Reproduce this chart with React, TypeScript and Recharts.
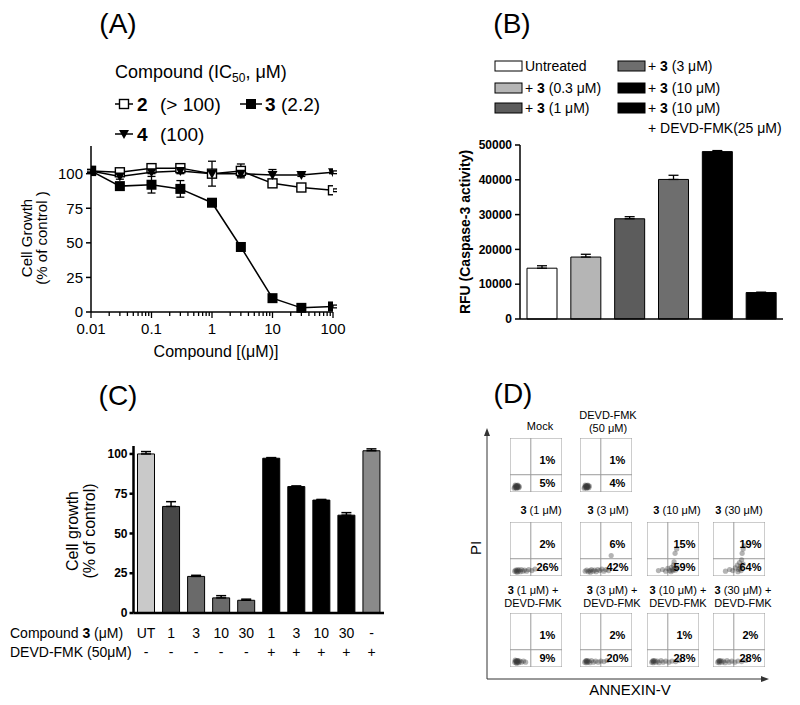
import React from 'react';
import {
  LineChart, Line, XAxis, YAxis, ErrorBar, BarChart, Bar, Cell,
  ScatterChart, Scatter, ReferenceLine, ReferenceArea,
} from 'recharts';

const FONT = "'Liberation Sans', Arial, Helvetica, sans-serif";

// ---------- Panel A data ----------
const concentrations = [0.01, 0.03, 0.1, 0.3, 1, 3, 10, 30, 100];
const growth2 = [102, 101, 104, 104, 100, 102, 93, 90, 88];
const growth3 = [102, 91, 92, 89, 79, 47, 10, 3, 4];
const growth4 = [102, 98, 101, 102, 100, 100, 99, 99, 101];
const err2 = [1, 1, 1, 1, 9, 5, 2, 1, 1];
const err3 = [1, 2, 6, 6, 2, 1, 1, 1, 1];
const err4 = [1, 2, 1, 2, 1, 2, 4, 1, 1];
const majorTicksA = [0.01, 0.1, 1, 10, 100];
const minorTicksA = [
  0.02, 0.03, 0.04, 0.05, 0.06, 0.07, 0.08, 0.09,
  0.2, 0.3, 0.4, 0.5, 0.6, 0.7, 0.8, 0.9,
  2, 3, 4, 5, 6, 7, 8, 9,
  20, 30, 40, 50, 60, 70, 80, 90,
];
const yTicksA = [0, 25, 50, 75, 100];

// ---------- Panel B data ----------
const caspaseGroups = ['Untreated', '3 0.3uM', '3 1uM', '3 3uM', '3 10uM', '3 10uM + DEVD'];
const caspaseRFU = [14600, 17800, 28800, 40100, 48100, 7600];
const caspaseErr = [700, 800, 600, 1200, 300, 100];
const yTicksB = [0, 10000, 20000, 30000, 40000, 50000];

// ---------- Panel C data ----------
const cDoses = ['UT', '1', '3', '10', '30', '1', '3', '10', '30', '-'];
const cDevd = ['-', '-', '-', '-', '-', '+', '+', '+', '+', '+'];
const cGrowth = [100, 67, 23, 9.5, 8, 97.3, 79.5, 71, 61.5, 102];
const cErr = [1.5, 3, 0.7, 1.4, 0.7, 0.4, 0.4, 0.4, 1.6, 1.2];
const yTicksC = [0, 25, 50, 75, 100];

// ---------- Panel D data ----------
const dTitles = [
  ['Mock'], ['DEVD-FMK', '(50 μM)'],
  ['3 (1 μM)'], ['3 (3 μM)'], ['3 (10 μM)'], ['3 (30 μM)'],
  ['3 (1 μM) +', 'DEVD-FMK'], ['3 (3 μM) +', 'DEVD-FMK'], ['3 (10 μM) +', 'DEVD-FMK'], ['3 (30 μM) +', 'DEVD-FMK'],
];
const dUpper = ['1%', '1%', '2%', '6%', '15%', '19%', '1%', '2%', '1%', '2%'];
const dLower = ['5%', '4%', '26%', '42%', '59%', '64%', '9%', '20%', '28%', '28%'];
const cloudMock = [[9, 9], [11, 11], [12, 8], [13, 10], [14, 12], [15, 9], [16, 11], [13, 7], [10, 13], [17, 8], [12, 12], [14, 9], [18, 10], [8, 7], [15, 13], [11, 9]];
const cloudDevd = [[9, 9], [11, 11], [12, 8], [13, 10], [14, 12], [15, 9], [16, 11], [13, 7], [10, 13], [17, 8], [12, 12], [14, 9], [18, 11], [8, 7], [15, 13], [11, 10]];
const cloud3a = [[9, 9], [11, 11], [12, 8], [13, 10], [15, 12], [16, 9], [18, 11], [20, 8], [22, 12], [25, 9], [28, 11], [32, 9], [36, 12], [42, 10], [48, 13], [14, 7]];
const cloud3b = [[10, 9], [13, 11], [16, 8], [19, 10], [22, 12], [25, 9], [28, 11], [31, 8], [34, 12], [38, 10], [42, 13], [46, 9], [50, 12], [55, 10], [60, 38], [20, 7]];
const cloud3c = [[22, 10], [30, 12], [36, 9], [40, 14], [44, 10], [47, 16], [49, 12], [51, 20], [53, 14], [55, 11], [52, 26], [54, 42], [57, 50], [58, 16], [46, 8], [50, 10]];
const cloud3d = [[24, 9], [32, 12], [38, 10], [43, 15], [47, 20], [49, 12], [51, 25], [53, 18], [55, 30], [56, 42], [58, 50], [60, 56], [52, 14], [58, 22], [48, 8], [54, 10]];
const cloud3aD = [[9, 9], [11, 11], [12, 8], [13, 10], [14, 12], [15, 9], [16, 11], [13, 7], [10, 13], [17, 8], [19, 11], [22, 9], [26, 11], [30, 9], [12, 11], [15, 12]];
const cloud3bD = [[9, 9], [11, 11], [12, 8], [13, 10], [14, 12], [15, 9], [17, 11], [19, 8], [22, 12], [26, 9], [30, 11], [35, 9], [40, 11], [46, 10], [52, 12], [12, 12]];
const cloud3cD = [[9, 9], [11, 11], [12, 8], [13, 10], [15, 12], [17, 9], [20, 11], [23, 8], [27, 12], [31, 9], [36, 11], [42, 9], [48, 11], [55, 10], [62, 12], [12, 12]];
const cloud3dD = [[9, 9], [11, 11], [12, 8], [13, 10], [15, 12], [17, 9], [20, 11], [23, 8], [27, 12], [31, 9], [36, 11], [42, 9], [48, 11], [55, 10], [63, 12], [12, 12]];
const dClouds = [cloudMock, cloudDevd, cloud3a, cloud3b, cloud3c, cloud3d, cloud3aD, cloud3bD, cloud3cD, cloud3dD];
const dGateX = 40;
const dGateY = 32;

// ---------- layout / styles ----------
const barColorsB = ['#ffffff', '#b5b5b5', '#5c5c5c', '#6e6e6e', '#000000', '#000000'];
const barColorsC = ['#c9c9c9', '#474747', '#6a6a6a', '#6a6a6a', '#6a6a6a', '#000000', '#000000', '#000000', '#000000', '#8a8a8a'];
const dColLeft = [510, 580, 647, 713];
const dRowTop = [438, 522, 613];
const dCells = [[0, 0], [0, 1], [1, 0], [1, 1], [1, 2], [1, 3], [2, 0], [2, 1], [2, 2], [2, 3]];
const dTitleCenters = [540, 608, 541, 608, 677, 739, 533, 612, 678, 743];
const D_W = 52;
const D_H = 54;

const dataA = concentrations.map((x, i) => ({
  x, s2: growth2[i], s3: growth3[i], s4: growth4[i], e2: err2[i], e3: err3[i], e4: err4[i],
}));
const dataB = caspaseGroups.map((g, i) => ({ g, v: caspaseRFU[i], err: [0, caspaseErr[i]] }));
const dataC = cGrowth.map((v, i) => ({ id: String(i), v, err: [0, cErr[i]] }));

const fmtTick = (v: number) => String(v);

const LogTick = (props: any) => {
  const { x, y, payload } = props;
  const isMajor = majorTicksA.includes(payload.value);
  return (
    <g>
      <line x1={x} x2={x} y1={y} y2={y + (isMajor ? 6 : 4)} stroke="#000" strokeWidth={1.3} />
      {isMajor && (
        <text x={x} y={y + 22} textAnchor="middle" fontSize={15} fontFamily={FONT} fill="#000">
          {fmtTick(payload.value)}
        </text>
      )}
    </g>
  );
};

const CTick = (props: any) => {
  const { x, y, payload } = props;
  const i = Number(payload.value);
  return (
    <g fontFamily={FONT} fontSize={14} fill="#000">
      <text x={x} y={y + 25} textAnchor="middle">{cDoses[i]}</text>
      <text x={x} y={y + 44} textAnchor="middle">{cDevd[i]}</text>
    </g>
  );
};

const openSquare = (p: any) => (
  <rect key={`o${p.index}`} x={p.cx - 4.5} y={p.cy - 4.5} width={9} height={9} fill="#fff" stroke="#000" strokeWidth={1.4} />
);
const filledSquare = (p: any) => (
  <rect key={`f${p.index}`} x={p.cx - 5} y={p.cy - 5} width={10} height={10} fill="#000" />
);
const downTriangle = (p: any) => (
  <path key={`t${p.index}`} d={`M${p.cx - 5},${p.cy - 4} L${p.cx + 5},${p.cy - 4} L${p.cx},${p.cy + 5} Z`} fill="#000" />
);

function PanelA() {
  return (
    <LineChart width={400} height={370} data={dataA} margin={{ top: 146, right: 67, bottom: 28, left: 51 }}>
      <XAxis
        dataKey="x" type="number" scale="log" domain={[0.01, 100]}
        ticks={[...majorTicksA, ...minorTicksA].sort((a, b) => a - b)}
        interval={0} tick={<LogTick />} tickLine={false} tickSize={0} tickMargin={0}
        height={30} stroke="#000" strokeWidth={1.5} allowDataOverflow
      />
      <YAxis
        type="number" domain={[0, 120]} ticks={yTicksA} interval={0} width={40}
        tickSize={5} tickMargin={3} stroke="#000" strokeWidth={1.5}
        tick={{ fontSize: 15, fill: '#000', fontFamily: FONT }}
      />
      <Line dataKey="s2" stroke="#000" strokeWidth={1.5} dot={openSquare} isAnimationActive={false}>
        <ErrorBar dataKey="e2" width={4} stroke="#000" strokeWidth={1.3} direction="y" />
      </Line>
      <Line dataKey="s4" stroke="#000" strokeWidth={1.5} dot={downTriangle} isAnimationActive={false}>
        <ErrorBar dataKey="e4" width={4} stroke="#000" strokeWidth={1.3} direction="y" />
      </Line>
      <Line dataKey="s3" stroke="#000" strokeWidth={1.5} dot={filledSquare} isAnimationActive={false}>
        <ErrorBar dataKey="e3" width={4} stroke="#000" strokeWidth={1.3} direction="y" />
      </Line>
    </LineChart>
  );
}

function PanelB() {
  return (
    <BarChart width={400} height={370} data={dataB} margin={{ top: 145, right: 17, bottom: 50, left: 70 }}>
      <XAxis dataKey="g" tick={false} tickLine={false} height={1} stroke="#000" strokeWidth={1.5} />
      <YAxis
        type="number" domain={[0, 50000]} ticks={yTicksB} interval={0} width={50}
        tickSize={5} tickMargin={3} stroke="#000" strokeWidth={1.5}
        tick={{ fontSize: 12, fill: '#000', fontFamily: FONT, fontWeight: 'bold' }}
      />
      <Bar dataKey="v" barSize={30} stroke="#000" strokeWidth={1} isAnimationActive={false}>
        {dataB.map((_, i) => <Cell key={i} fill={barColorsB[i]} />)}
        <ErrorBar dataKey="err" width={5} stroke="#000" strokeWidth={1.3} direction="y" />
      </Bar>
    </BarChart>
  );
}

function PanelC() {
  return (
    <BarChart width={400} height={330} data={dataC} margin={{ top: 106, right: 16, bottom: 7, left: 93.5 }}>
      <XAxis dataKey="id" tick={<CTick />} tickLine={false} tickSize={0} tickMargin={0} interval={0}
        height={50} stroke="#000" strokeWidth={2.5} />
      <YAxis
        type="number" domain={[0, 105]} ticks={yTicksC} interval={0} width={40}
        tickSize={4} tickMargin={2} stroke="#000" strokeWidth={2.5}
        tick={{ fontSize: 12, fill: '#000', fontFamily: FONT, fontWeight: 'bold' }}
      />
      <Bar dataKey="v" barSize={17} stroke="#000" strokeWidth={1} isAnimationActive={false}>
        {dataC.map((_, i) => <Cell key={i} fill={barColorsC[i]} />)}
        <ErrorBar dataKey="err" width={5} stroke="#000" strokeWidth={1.5} direction="y" />
      </Bar>
    </BarChart>
  );
}

const cloudDot = (p: any) => (
  <circle cx={p.cx} cy={p.cy} r={2.6} fill="#3a3a3a" fillOpacity={0.38} />
);

function FlowPlot({ idx }: { idx: number }) {
  const pts = dClouds[idx].map(([x, y]) => ({ x, y }));
  return (
    <ScatterChart width={D_W} height={D_H} margin={{ top: 0, right: 0, bottom: 0, left: 0 }}>
      <XAxis dataKey="x" type="number" domain={[0, 100]} hide />
      <YAxis dataKey="y" type="number" domain={[0, 100]} hide />
      <ReferenceArea x1={0} x2={100} y1={0} y2={100} fill="#fff" fillOpacity={0} stroke="#9a9a9a" strokeWidth={1} />
      <ReferenceLine x={dGateX} stroke="#9a9a9a" strokeWidth={1} />
      <ReferenceLine y={dGateY} stroke="#9a9a9a" strokeWidth={1} />
      <Scatter data={pts} shape={cloudDot} isAnimationActive={false} />
    </ScatterChart>
  );
}

function Overlay() {
  const t = { fontFamily: FONT, fill: '#000' } as any;
  return (
    <svg width={800} height={705} style={{ position: 'absolute', left: 0, top: 0, pointerEvents: 'none' }}>
      {/* panel letters */}
      <text x={118} y={33} textAnchor="middle" fontSize={28} {...t}>(A)</text>
      <text x={512} y={33} textAnchor="middle" fontSize={28} {...t}>(B)</text>
      <text x={118} y={405} textAnchor="middle" fontSize={28} {...t}>(C)</text>
      <text x={513} y={403} textAnchor="middle" fontSize={28} {...t}>(D)</text>

      {/* Panel A legend */}
      <text x={115} y={78} fontSize={18} {...t}>
        Compound (IC<tspan fontSize={12} dy={4}>50</tspan><tspan dy={-4}>, μM)</tspan>
      </text>
      <line x1={115} x2={133} y1={104} y2={104} stroke="#000" strokeWidth={1.5} />
      <rect x={119.5} y={99.5} width={9} height={9} fill="#fff" stroke="#000" strokeWidth={1.4} />
      <text x={137} y={111} fontSize={19} fontWeight="bold" {...t}>2</text>
      <text x={160} y={111} fontSize={19} {...t}>(&gt; 100)</text>
      <line x1={240} x2={262} y1={104} y2={104} stroke="#000" strokeWidth={1.5} />
      <rect x={246} y={99} width={10} height={10} fill="#000" />
      <text x={265} y={111} fontSize={19} fontWeight="bold" {...t}>3</text>
      <text x={281} y={111} fontSize={19} {...t}>(2.2)</text>
      <line x1={115} x2={133} y1={134} y2={134} stroke="#000" strokeWidth={1.5} />
      <path d="M119,130 L129,130 L124,139 Z" fill="#000" />
      <text x={137} y={141} fontSize={19} fontWeight="bold" {...t}>4</text>
      <text x={160} y={141} fontSize={19} {...t}>(100)</text>

      {/* Panel A axis labels */}
      <text x={216} y={357} textAnchor="middle" fontSize={16} {...t}>Compound [(μM)]</text>
      <text transform="translate(32,238) rotate(-90)" textAnchor="middle" fontSize={15} {...t}>Cell Growth</text>
      <text transform="translate(47,238) rotate(-90)" textAnchor="middle" fontSize={15} {...t}>(% of control )</text>

      {/* Panel B legend */}
      {[
        { x: 495, y: 66, c: 0, label: null },
        { x: 495, y: 88, c: 1, label: '(0.3 μM)' },
        { x: 495, y: 108, c: 2, label: '(1 μM)' },
        { x: 618, y: 66, c: 3, label: '(3 μM)' },
        { x: 618, y: 88, c: 4, label: '(10 μM)' },
        { x: 618, y: 108, c: 5, label: '(10 μM)' },
      ].map((r, i) => (
        <g key={i}>
          <rect x={r.x} y={r.y - 5} width={27} height={10} fill={barColorsB[r.c]} stroke="#000" strokeWidth={1} />
          {r.label === null ? (
            <text x={r.x + 30} y={r.y + 5} fontSize={14} {...t}>Untreated</text>
          ) : (
            <text x={r.x + 30} y={r.y + 5} fontSize={14} {...t}>
              + <tspan fontWeight="bold">3</tspan> {r.label}
            </text>
          )}
        </g>
      ))}
      <text x={648} y={133} fontSize={14} {...t}>+ DEVD-FMK(25 μM)</text>
      <text transform="translate(470,232) rotate(-90)" textAnchor="middle" fontSize={14} fontWeight="bold" {...t}>RFU (Caspase-3 activity)</text>

      {/* Panel C labels */}
      <text transform="translate(78,531) rotate(-90)" textAnchor="middle" fontSize={16} {...t}>Cell growth</text>
      <text transform="translate(95,531) rotate(-90)" textAnchor="middle" fontSize={16} {...t}>(% of control)</text>
      <text x={10} y={638} fontSize={14} {...t}>Compound <tspan fontWeight="bold">3</tspan> (μM)</text>
      <text x={10} y={657} fontSize={14} {...t}>DEVD-FMK (50μM)</text>

      {/* Panel D axes */}
      <line x1={487} y1={679} x2={487} y2={434} stroke="#333" strokeWidth={1} />
      <path d="M487,428 L484,436 L490,436 Z" fill="#333" />
      <line x1={487} y1={679} x2={763} y2={679} stroke="#333" strokeWidth={1} />
      <path d="M769,679 L761,676 L761,682 Z" fill="#333" />
      <text transform="translate(481,548) rotate(-90)" textAnchor="middle" fontSize={15} {...t}>PI</text>
      <text x={630} y={695} textAnchor="middle" fontSize={15} {...t}>ANNEXIN-V</text>

      {/* Panel D titles and percentages */}
      {dCells.map(([r, c], i) => {
        const left = dColLeft[c];
        const top = dRowTop[r];
        const lines = dTitles[i];
        const cx = dTitleCenters[i];
        const baseY = lines.length === 2 ? top - 19 : top - 8;
        return (
          <g key={i}>
            {lines.map((ln, k) => {
              const boldThree = ln.startsWith('3 ');
              return (
                <text key={k} x={cx} y={baseY + k * 13} textAnchor="middle" fontSize={11} {...t}>
                  {boldThree ? (<><tspan fontWeight="bold">3</tspan>{ln.slice(1)}</>) : ln}
                </text>
              );
            })}
            <text x={left + D_W * 0.72} y={top + D_H * 0.4 + 4} textAnchor="middle" fontSize={11} fontWeight="bold" {...t}>{dUpper[i]}</text>
            <text x={left + D_W * 0.72} y={top + D_H * 0.83 + 4} textAnchor="middle" fontSize={11} fontWeight="bold" {...t}>{dLower[i]}</text>
          </g>
        );
      })}
    </svg>
  );
}

export default function App() {
  return (
    <div style={{ position: 'absolute', left: 0, top: 0, width: 800, height: 705, background: '#fff', fontFamily: FONT }}>
      <div style={{ position: 'absolute', left: 0, top: 0 }}><PanelA /></div>
      <div style={{ position: 'absolute', left: 400, top: 0 }}><PanelB /></div>
      <div style={{ position: 'absolute', left: 0, top: 340 }}><PanelC /></div>
      {dCells.map(([r, c], i) => (
        <div key={i} style={{ position: 'absolute', left: dColLeft[c], top: dRowTop[r] }}>
          <FlowPlot idx={i} />
        </div>
      ))}
      <Overlay />
    </div>
  );
}
